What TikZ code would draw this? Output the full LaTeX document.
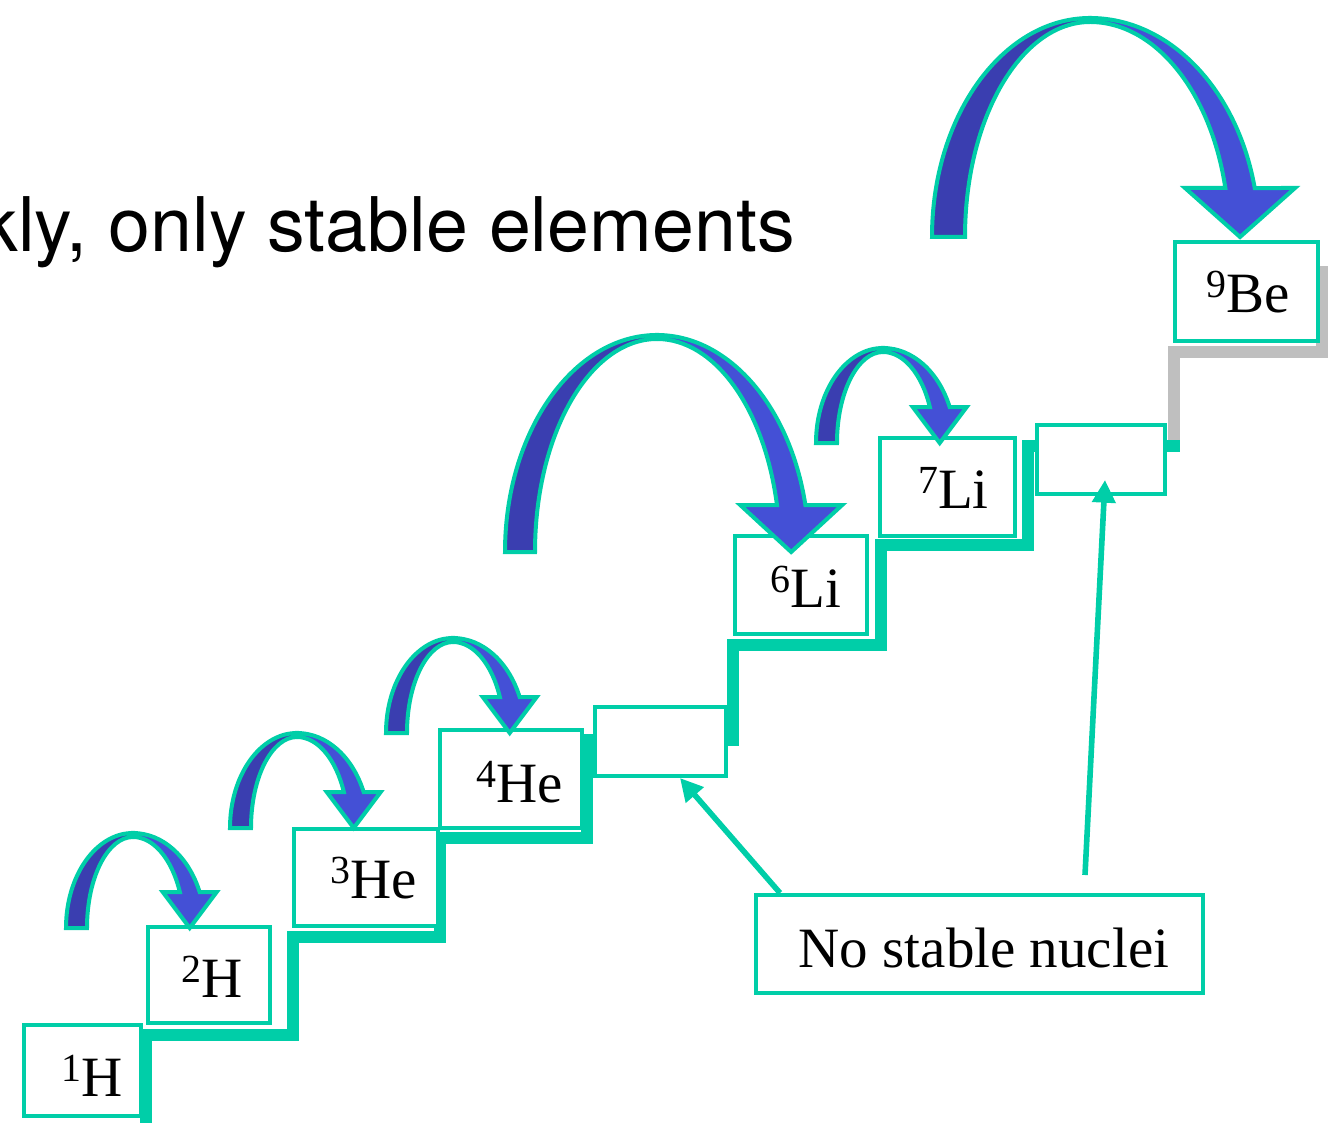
\documentclass[tikz,border=0pt]{standalone}
\usepackage{fontspec}
\setmainfont{Liberation Serif}
\newfontfamily\headfont{TeX Gyre Heros}
\usetikzlibrary{arrows.meta,fit}
\definecolor{tealc}{RGB}{0,206,168}
\definecolor{hopdarkc}{RGB}{58,62,176}
\definecolor{hoplightc}{RGB}{68,80,214}
\definecolor{stepgray}{RGB}{191,191,191}
\newcommand\iso[2]{\raisebox{0.26em}{\fontsize{29.9pt}{30pt}\selectfont #1}#2}
% curved block arrow: cx, yb, bo, aLo, aLi, aRo, aRi, dy, hh
\newcommand\hop[9]{%
  \pgfmathsetmacro\hopbi{#3-4}%
  \pgfmathsetmacro\hoptho{360-asin(#8/#3)}%
  \pgfmathsetmacro\hopthi{360-asin(#8/\hopbi)}%
  \pgfmathsetmacro\hopxo{#1+#6*cos(\hoptho)}%
  \pgfmathsetmacro\hopxi{#1+#7*cos(\hopthi)}%
  \pgfmathsetmacro\hophc{(\hopxo+\hopxi)/2}%
  \pgfmathsetmacro\hopyh{#2-#8}%
  \filldraw[hopdark] (#1-#4,#2) arc[start angle=180,end angle=270,x radius=#4,y radius=#3]
     -- (#1,#2-\hopbi) arc[start angle=270,end angle=180,x radius=#5,y radius=\hopbi] -- cycle;
  \filldraw[hoplight] (#1,#2-#3) arc[start angle=270,end angle=\hoptho,x radius=#6,y radius=#3]
     -- (\hophc+#9,\hopyh) -- (\hophc,#2) -- (\hophc-#9,\hopyh) -- (\hopxi,\hopyh)
     arc[start angle=\hopthi,end angle=270,x radius=#7,y radius=\hopbi] -- cycle;
}
\begin{document}
\begin{tikzpicture}[x=0.75pt,y=-0.75pt,
  box/.style={draw=tealc, line width=3.2pt, fill=white, inner sep=0pt},
  lbl/.style={anchor=base, inner sep=0pt, font=\fontsize{42.75pt}{50pt}\selectfont},
  stair/.style={line width=9.5pt, draw=tealc, line join=miter},
  graystair/.style={line width=9.5pt, draw=stepgray, line join=miter},
  hopdark/.style={fill=hopdarkc, draw=tealc, line width=3pt, line join=miter},
  hoplight/.style={fill=hoplightc, draw=tealc, line width=3pt, line join=miter},
  pointer/.style={draw=tealc, line width=4.2pt, -{Triangle[length=17pt,width=17pt]}}]
\useasboundingbox (0,0) rectangle (1331,1123);
\clip (0,0) rectangle (1331,1123);

% heading fragment
\node[anchor=base east, inner sep=0pt, font=\headfont\fontsize{56.5pt}{62pt}\selectfont] (head) at (795,252) {kly, only stable elements};

% staircase
\draw[graystair] (1174,446) -- (1174,352) -- (1322,352) -- (1322,266);
\draw[stair] (146,1135) -- (146,1035) -- (293,1035) -- (293,937) -- (440,937) -- (440,838)
  -- (587,838) -- (587,740) -- (733,740) -- (733,645) -- (881,645) -- (881,545)
  -- (1028,545) -- (1028,446) -- (1174,446) -- (1174,440);

% boxes
\node[box, fit={(24.1,1025.1) (140.9,1115.9)}] (h1) {};
\node[box, fit={(148.1,927.1) (269.9,1022.9)}] (h2) {};
\node[box, fit={(294.1,829.1) (437.9,925.9)}] (he3) {};
\node[box, fit={(440.1,730.1) (581.9,827.9)}] (he4) {};
\node[box, fit={(595.1,707.1) (725.9,775.9)}] (e1) {};
\node[box, fit={(735.1,536.1) (866.9,633.9)}] (li6) {};
\node[box, fit={(880.1,438.1) (1014.9,535.9)}] (li7) {};
\node[box, fit={(1037.1,425.1) (1164.9,493.9)}] (e2) {};
\node[box, fit={(1175.1,242.1) (1317.9,340.9)}] (be9) {};
\node[box, fit={(756.1,895.1) (1202.9,992.9)}] (nsn) {};

% labels
\node[lbl] (h1l) at (92,1096) {\iso{1}{H}};
\node[lbl] (h2l) at (212,997) {\iso{2}{H}};
\node[lbl] (he3l) at (373.5,898) {\iso{3}{He}};
\node[lbl] (he4l) at (520,802) {\iso{4}{He}};
\node[lbl] (li6l) at (806,607) {\iso{6}{Li}};
\node[lbl] (li7l) at (953.5,508) {\iso{7}{Li}};
\node[lbl] (be9l) at (1248,312) {\iso{9}{Be}};
\node[lbl] (nsnl) at (984,967) {No stable nuclei};

% curved hops
\hop{133}{928}{95}{67}{46}{72}{51}{36}{27}
\hop{297}{828}{95}{67}{46}{72}{51}{36}{27}
\hop{453}{733}{95}{67}{46}{72}{51}{36}{27}
\hop{883}{443}{95}{67}{46}{72}{51}{36}{27}
\hop{657}{552}{217}{152}{122}{152}{123}{47}{51}
\hop{1090}{237}{219}{158}{125}{169}{139}{49}{55}

% pointers
\coordinate (s1) at (780,893);
\coordinate (t1) at (680,778);
\coordinate (s2) at (1085,875);
\coordinate (t2) at (1105,480);
\draw[pointer] (s1) -- (t1);
\draw[pointer] (s2) -- (t2);
\end{tikzpicture}
\end{document}
